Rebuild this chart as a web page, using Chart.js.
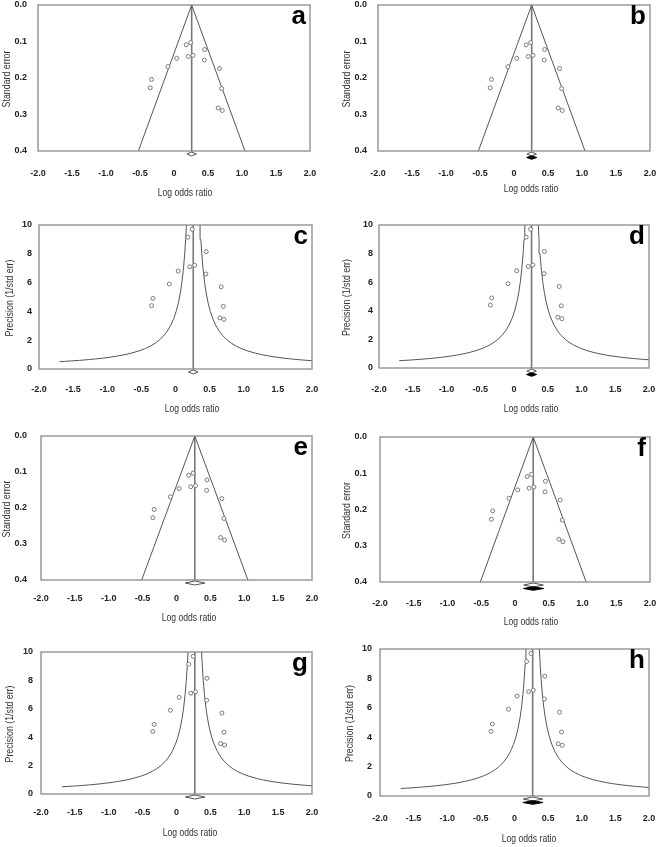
<!DOCTYPE html>
<html>
<head>
<meta charset="utf-8">
<script src="https://cdn.jsdelivr.net/npm/chart.js@4.4.0/dist/chart.umd.min.js"></script>
<style>
  html, body { margin: 0; padding: 0; background: #fff; }
  #figure { position: relative; width: 661px; height: 847px; overflow: hidden; }
  #figure canvas { position: absolute; }
</style>
</head>
<body>
<div id="figure"></div>
<script>
// study level values (same 14 studies in every panel)
const studyLogOR = [0.245, 0.18, 0.45, 0.21, 0.28, 0.04, 0.445, -0.09, 0.67, -0.33, -0.35, 0.70, 0.65, 0.71];
const studySE = [0.103, 0.109, 0.122, 0.141, 0.138, 0.146, 0.151, 0.169, 0.174, 0.204, 0.227, 0.229, 0.282, 0.289];
const studyPrecision = [9.7, 9.15, 8.15, 7.1, 7.2, 6.8, 6.6, 5.9, 5.7, 4.9, 4.4, 4.35, 3.55, 3.45];

// pooled log odds ratio as [lower, estimate, upper]
const pooledFixed = [0.19, 0.26, 0.33];
const pooledRandom = [0.13, 0.27, 0.42];
// trim and fill adjusted estimate (filled diamond)
const adjustedFixed = [0.185, 0.26, 0.335];
const adjustedRandom = [0.125, 0.27, 0.425];

const xTickLabels = ["-2.0", "-1.5", "-1.0", "-0.5", "0", "0.5", "1.0", "1.5", "2.0"];
const seTickLabels = ["0.0", "0.1", "0.2", "0.3", "0.4"];
const precisionTickLabels = ["0", "2", "4", "6", "8", "10"];

// funnel limits
const seRange = [0, 0.4];
const precisionRange = [0, 10];
const seZ = 1.96;
const precisionCurveWidth = 1.0;
const curvePrecision = [0.51, 0.53, 0.56, 0.6, 0.65, 0.7, 0.76, 0.83, 0.9, 1, 1.1, 1.25, 1.4,
  1.6, 1.8, 2, 2.3, 2.6, 3, 3.5, 4, 4.6, 5.3, 6, 7, 8, 9, 10, 11];

const tickFont = { family: '"Liberation Sans", Arial, sans-serif', size: 9, weight: "bold" };
const titleFontCss = '10.5px "Liberation Sans", Arial, sans-serif';

// layout of the 8 panels: canvas box [left, top, w, h], plot rect [l, t, r, b] in page px
const panels = [
  { letter: "a", kind: "se", model: "fixed", adjusted: false, box: [0, 0, 330, 205], plot: [38, 5, 310, 151], tickY: 173, titleX: 185, titleY: 193, yTitleX: 7, yGap: 11 },
  { letter: "b", kind: "se", model: "fixed", adjusted: true, box: [330, 0, 331, 205], plot: [378, 5, 650, 151], tickY: 173, titleX: 531, titleY: 189, yTitleX: 347, yGap: 11 },
  { letter: "c", kind: "prec", model: "fixed", adjusted: false, box: [0, 205, 330, 215], plot: [39, 225, 312, 369], tickY: 389, titleX: 192, titleY: 409, yTitleX: 10, yGap: 7 },
  { letter: "d", kind: "prec", model: "fixed", adjusted: true, box: [330, 205, 331, 215], plot: [379, 225, 649, 368], tickY: 389, titleX: 531, titleY: 409, yTitleX: 347, yGap: 6 },
  { letter: "e", kind: "se", model: "random", adjusted: false, box: [0, 420, 330, 210], plot: [41, 436, 312, 580], tickY: 598, titleX: 189, titleY: 618, yTitleX: 7, yGap: 14 },
  { letter: "f", kind: "se", model: "random", adjusted: true, box: [330, 420, 331, 210], plot: [380, 437, 650, 582], tickY: 603, titleX: 531, titleY: 622, yTitleX: 347, yGap: 13 },
  { letter: "g", kind: "prec", model: "random", adjusted: false, box: [0, 630, 330, 217], plot: [41, 652, 312, 794], tickY: 812, titleX: 190, titleY: 833, yTitleX: 10, yGap: 8 },
  { letter: "h", kind: "prec", model: "random", adjusted: true, box: [330, 630, 331, 217], plot: [380, 649, 649, 796], tickY: 818, titleX: 529, titleY: 839, yTitleX: 350, yGap: 8 }
];

const figure = document.getElementById("figure");

function lineSet(data, color, width) {
  return { data, showLine: true, borderColor: color, borderWidth: width, pointRadius: 0, fill: false };
}

// tick label lookup by value, so reversed axes still get the right text
function labelFor(labels, min, step) {
  return v => labels[Math.round((v - min) / step)];
}

function drawDiamond(ctx, xs, ci, yMid, half, filled) {
  const x0 = xs.getPixelForValue(ci[0]);
  const x1 = xs.getPixelForValue(ci[1]);
  const x2 = xs.getPixelForValue(ci[2]);
  ctx.beginPath();
  ctx.moveTo(x0, yMid);
  ctx.lineTo(x1, yMid - half);
  ctx.lineTo(x2, yMid);
  ctx.lineTo(x1, yMid + half);
  ctx.closePath();
  ctx.fillStyle = filled ? "#000" : "#fff";
  ctx.fill();
  ctx.strokeStyle = filled ? "#000" : "#555";
  ctx.lineWidth = 1;
  ctx.stroke();
}

// narrow title text like the original (condensed face is not installed)
function narrowText(ctx, text, x, y, squeeze) {
  const w = ctx.measureText(text).width;
  ctx.fillText(text, x, y, w * squeeze);
}

function makePanel(p) {
  const [cx, cy, cw, ch] = p.box;
  const L = p.plot[0] - cx, T = p.plot[1] - cy, R = p.plot[2] - cx, B = p.plot[3] - cy;

  const canvas = document.createElement("canvas");
  canvas.width = cw;
  canvas.height = ch;
  canvas.style.left = cx + "px";
  canvas.style.top = cy + "px";
  canvas.style.width = cw + "px";
  canvas.style.height = ch + "px";
  figure.appendChild(canvas);

  const pooled = p.model === "fixed" ? pooledFixed : pooledRandom;
  const adjusted = p.model === "fixed" ? adjustedFixed : adjustedRandom;
  const c = pooled[1];
  const isSE = p.kind === "se";

  let datasets;
  if (isSE) {
    const top = seRange[0], bot = seRange[1];
    datasets = [
      { data: studyLogOR.map((x, i) => ({ x, y: studySE[i] })), pointRadius: 2, pointBorderWidth: 1,
        pointBorderColor: "#7a7a7a", pointBackgroundColor: "#fff", showLine: false },
      lineSet([{ x: c, y: top }, { x: c - seZ * bot, y: bot }], "#555", 1),
      lineSet([{ x: c, y: top }, { x: c + seZ * bot, y: bot }], "#555", 1),
      lineSet([{ x: c, y: top }, { x: c, y: bot }], "#777", 1.6)
    ];
  } else {
    datasets = [
      { data: studyLogOR.map((x, i) => ({ x, y: studyPrecision[i] })), pointRadius: 2, pointBorderWidth: 1,
        pointBorderColor: "#7a7a7a", pointBackgroundColor: "#fff", showLine: false },
      lineSet(curvePrecision.map(v => ({ x: c - precisionCurveWidth / v, y: v })), "#555", 1),
      lineSet(curvePrecision.map(v => ({ x: c + precisionCurveWidth / v, y: v })), "#555", 1),
      lineSet([{ x: c, y: precisionRange[0] }, { x: c, y: precisionRange[1] }], "#777", 1.6)
    ];
  }

  const extras = {
    id: "extras" + p.letter,
    afterDatasetsDraw(chart) {
      const { ctx, chartArea: a, scales } = chart;
      ctx.save();
      ctx.strokeStyle = "#8a8a8a";
      ctx.lineWidth = 1.3;
      ctx.strokeRect(a.left, a.top, a.right - a.left, a.bottom - a.top);
      drawDiamond(ctx, scales.x, pooled, a.bottom + 3, 2, false);
      if (p.adjusted) drawDiamond(ctx, scales.x, adjusted, a.bottom + 6.5, 1.8, true);

      ctx.fillStyle = "#000";
      ctx.font = 'bold 26px "Liberation Sans", Arial, sans-serif';
      ctx.textAlign = "right";
      ctx.textBaseline = "alphabetic";
      ctx.fillText(p.letter, a.right - 4, a.top + 19);

      // axis titles
      ctx.fillStyle = "#333";
      ctx.font = titleFontCss;
      ctx.textAlign = "center";
      ctx.textBaseline = "middle";
      narrowText(ctx, "Log odds ratio", p.titleX - cx, p.titleY - cy, 0.82);
      ctx.translate(p.yTitleX - cx, (a.top + a.bottom) / 2 + 1);
      ctx.rotate(-Math.PI / 2);
      narrowText(ctx, isSE ? "Standard error" : "Precision (1/std err)", 0, 0, 0.84);
      ctx.restore();
    }
  };

  new Chart(canvas, {
    type: "scatter",
    data: { datasets },
    options: {
      responsive: false,
      animation: false,
      devicePixelRatio: 1,
      layout: { padding: { left: 0, top: T, right: cw - R, bottom: 0 } },
      plugins: { legend: { display: false }, tooltip: { enabled: false } },
      scales: {
        x: {
          type: "linear", min: -2, max: 2,
          grid: { display: false, drawTicks: false },
          border: { display: false },
          ticks: { stepSize: 0.5, autoSkip: false, maxRotation: 0, padding: p.tickY - p.plot[3] - 5,
            font: tickFont, color: "#222", callback: labelFor(xTickLabels, -2, 0.5) },
          afterFit: s => { s.height = ch - B; s.paddingLeft = 0; s.paddingRight = 0; }
        },
        y: {
          type: "linear",
          min: isSE ? seRange[0] : precisionRange[0],
          max: isSE ? seRange[1] : precisionRange[1],
          reverse: isSE,
          grid: { display: false, drawTicks: false },
          border: { display: false },
          ticks: { stepSize: isSE ? 0.1 : 2, autoSkip: false, padding: p.yGap, font: tickFont, color: "#222",
            callback: isSE ? labelFor(seTickLabels, 0, 0.1) : labelFor(precisionTickLabels, 0, 2) },
          afterFit: s => { s.width = L; s.paddingTop = 0; s.paddingBottom = 0; }
        }
      }
    },
    plugins: [extras]
  });
}

panels.forEach(makePanel);
</script>
</body>
</html>
